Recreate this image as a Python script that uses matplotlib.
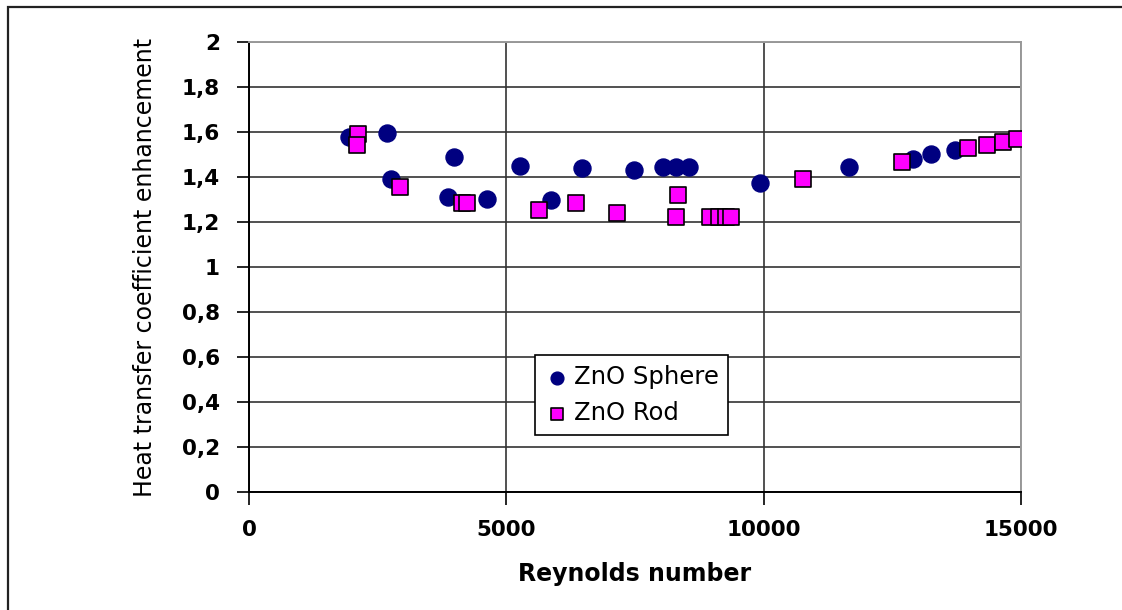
import matplotlib.pyplot as plt
from matplotlib.patches import Rectangle
from matplotlib.ticker import FuncFormatter

# ZnO sphere nanofluid
sphere_re = [1940, 2680, 2760, 3870, 3980, 4620, 5270, 5870, 6470, 7480,
             8040, 8300, 8550, 9930, 11660, 12900, 13250, 13720]
sphere_h = [1.578, 1.595, 1.391, 1.311, 1.489, 1.302, 1.449, 1.298, 1.440, 1.431,
            1.444, 1.444, 1.444, 1.373, 1.444, 1.480, 1.502, 1.520]

# ZnO rod nanofluid
rod_re = [2120, 2100, 2930, 4140, 4240, 5630, 6350, 7150, 8300, 8340,
          8960, 9130, 9270, 9370, 10760, 12690, 13970, 14340, 14650, 14920]
rod_h = [1.591, 1.542, 1.356, 1.284, 1.284, 1.253, 1.284, 1.240, 1.222, 1.320,
         1.222, 1.222, 1.222, 1.222, 1.391, 1.467, 1.529, 1.542, 1.556, 1.569]

x_ticks = [0, 5000, 10000, 15000]
y_ticks = [0, 0.2, 0.4, 0.6, 0.8, 1.0, 1.2, 1.4, 1.6, 1.8, 2.0]

plt.rcParams['font.family'] = ['DejaVu Sans']

fig = plt.figure(figsize=(11.22, 6.10), dpi=100)
ax = fig.add_axes([0.2219, 0.1934, 0.6881, 0.7377])

# chart-area frame (runs off the right and bottom edges)
fig.patches.append(Rectangle((0.0071, -0.02), 1.1, 1.0085, transform=fig.transFigure,
                             fill=False, edgecolor='#222222', linewidth=1.6))

ax.scatter(sphere_re, sphere_h, s=150, marker='o', color='#000080',
           edgecolors='#000080', zorder=3, label='ZnO Sphere')
ax.scatter(rod_re, rod_h, s=130, marker='s', color='#FF00FF',
           edgecolors='black', linewidths=1.2, zorder=4, label='ZnO Rod')

ax.set_xlim(0, 15000)
ax.set_ylim(0, 2)
ax.set_xticks(x_ticks)
ax.set_yticks(y_ticks)
ax.yaxis.set_major_formatter(FuncFormatter(lambda v, p: f'{v:g}'.replace('.', ',')))

for lbl in ax.get_xticklabels() + ax.get_yticklabels():
    lbl.set_fontweight('bold')
ax.tick_params(axis='both', labelsize=15.5, length=9, width=1.2, color='black')
ax.tick_params(axis='x', pad=11)
ax.tick_params(axis='y', pad=12)

ax.grid(True, color='#333333', linewidth=1.2)
ax.set_axisbelow(True)

for side in ['left', 'bottom']:
    ax.spines[side].set_color('black')
    ax.spines[side].set_linewidth(1.4)
for side in ['top', 'right']:
    ax.spines[side].set_color('#999999')
    ax.spines[side].set_linewidth(1.4)

ax.set_xlabel('Reynolds number', fontsize=17, fontweight='bold', labelpad=16)
ax.set_ylabel('Heat transfer coefficient enhancement', fontsize=17, labelpad=18)

leg = ax.legend(loc='lower left', bbox_to_anchor=(0.37, 0.127), fontsize=17.5,
                frameon=True, fancybox=False, edgecolor='black', framealpha=1,
                markerscale=0.75, handletextpad=0.2, borderpad=0.4,
                labelspacing=0.5, handlelength=1.0, borderaxespad=0)
leg.get_frame().set_linewidth(1.2)

fig.savefig('out.png', dpi=100)
